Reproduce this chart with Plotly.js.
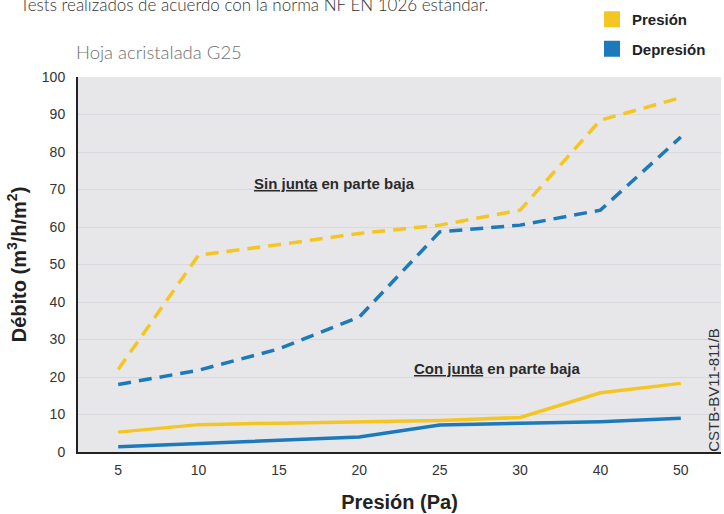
<!DOCTYPE html>
<html>
<head>
<meta charset="utf-8">
<script src="https://cdn.plot.ly/plotly-3.0.1.min.js"></script>
<style>html,body{margin:0;padding:0;background:#fff;}#chart{width:724px;height:514px;}</style>
</head>
<body>
<div id="chart"></div>
<script>
// Categories (pressure, Pa)
var categories = ['5', '10', '15', '20', '25', '30', '40', '50'];
// Sin junta (dashed)
var presionSinJunta   = [22, 52.5, 55.3, 58.3, 60.5, 64.5, 88.5, 94.5];
var depresionSinJunta = [18, 21.8, 27.5, 36, 58.7, 60.5, 64.5, 84];
// Con junta (solid)
var presionConJunta   = [5.3, 7.3, 7.7, 8.1, 8.4, 9.2, 15.8, 18.3];
var depresionConJunta = [1.4, 2.3, 3.1, 4, 7.2, 7.6, 8.1, 9];
var yTicks = [0, 10, 20, 30, 40, 50, 60, 70, 80, 90, 100];
var legendNames = ['Presión', 'Depresión'];

var YELLOW = '#F5C623';
var BLUE = '#1C79BA';

var traces = [
  {x: categories, y: presionSinJunta, mode: 'lines', showlegend: false,
   line: {color: YELLOW, width: 3.5, dash: '13px,8px'}},
  {x: categories, y: depresionSinJunta, mode: 'lines', showlegend: false,
   line: {color: BLUE, width: 3.5, dash: '13px,8px'}},
  {x: categories, y: presionConJunta, mode: 'lines', showlegend: false,
   line: {color: YELLOW, width: 3.5}},
  {x: categories, y: depresionConJunta, mode: 'lines', showlegend: false,
   line: {color: BLUE, width: 3.5}},
  {x: [null], y: [null], mode: 'markers', name: legendNames[0], legendgroup: 'a',
   marker: {symbol: 'square', size: 16, color: YELLOW}},
  {x: [null], y: [null], mode: 'markers', name: legendNames[1], legendgroup: 'b',
   marker: {symbol: 'square', size: 16, color: BLUE}}
];

var layout = {
  width: 724, height: 514,
  margin: {l: 78, r: 3, t: 77, b: 62, autoexpand: false},
  paper_bgcolor: '#ffffff',
  plot_bgcolor: '#E7E7EA',
  title: {
    text: 'Tests realizados de acuerdo con la norma NF EN 1026 estándar.',
    x: 20/724, xanchor: 'left', xref: 'container',
    y: 1 - 5/514, yanchor: 'middle', yref: 'container',
    font: {family: 'Lato, "Open Sans", sans-serif', size: 17, color: '#333', weight: 300}
  },
  font: {family: '"Liberation Sans", Arial, sans-serif', color: '#222'},
  xaxis: {
    type: 'category',
    categoryorder: 'array', categoryarray: categories,
    range: [-0.5, 7.5],
    showgrid: false, zeroline: false,
    showline: true, linecolor: '#222', linewidth: 2,
    ticks: '', ticklabelstandoff: 4,
    tickfont: {size: 14, color: '#333'},
    title: {text: '<b>Presión (Pa)</b>', font: {size: 20, color: '#222'}, standoff: 18},
    fixedrange: true
  },
  yaxis: {
    range: [0, 100],
    tickvals: yTicks,
    showgrid: true, gridcolor: '#D9D9DD', gridwidth: 1,
    zeroline: false,
    showline: true, linecolor: '#222', linewidth: 2,
    ticks: '', ticklabelstandoff: 8,
    tickfont: {size: 14, color: '#333'},
    title: {text: '<b>Débito (m<sup>3</sup>/h/m<sup>2</sup>)</b>', font: {size: 20, color: '#222'}, standoff: 10},
    fixedrange: true
  },
  legend: {
    x: 592/724, xref: 'container', xanchor: 'left',
    y: 1 - 3/514, yref: 'container', yanchor: 'top',
    bgcolor: 'rgba(0,0,0,0)',
    font: {size: 15, color: '#222', weight: 'bold'},
    tracegroupgap: 7,
    itemwidth: 30
  },
  annotations: [
    {text: 'Hoja acristalada G25', xref: 'paper', yref: 'paper',
     x: -4/643, y: 1 + 25/374, xanchor: 'left', yanchor: 'middle', showarrow: false,
     font: {family: 'Lato, "Open Sans", sans-serif', size: 18.5, color: '#707070', weight: 300}},
    {text: '<b><span style="text-decoration:underline">Sin junta</span> en parte baja</b>',
     xref: 'x', yref: 'y', x: 1.67, y: 71.7, xanchor: 'left', yanchor: 'middle', showarrow: false,
     font: {size: 15, color: '#2a2a2a'}},
    {text: '<b><span style="text-decoration:underline">Con junta</span> en parte baja</b>',
     xref: 'x', yref: 'y', x: 3.66, y: 22.2, xanchor: 'left', yanchor: 'middle', showarrow: false,
     font: {size: 15, color: '#2a2a2a'}},
    {text: 'CSTB-BV11-811/B', xref: 'paper', yref: 'paper',
     x: (714-78)/643, y: (451-389)/374, xanchor: 'center', yanchor: 'middle', showarrow: false,
     textangle: -90, font: {size: 15, color: '#333'}}
  ]
};

Plotly.newPlot('chart', traces, layout, {displayModeBar: false, staticPlot: true});
</script>
</body>
</html>
